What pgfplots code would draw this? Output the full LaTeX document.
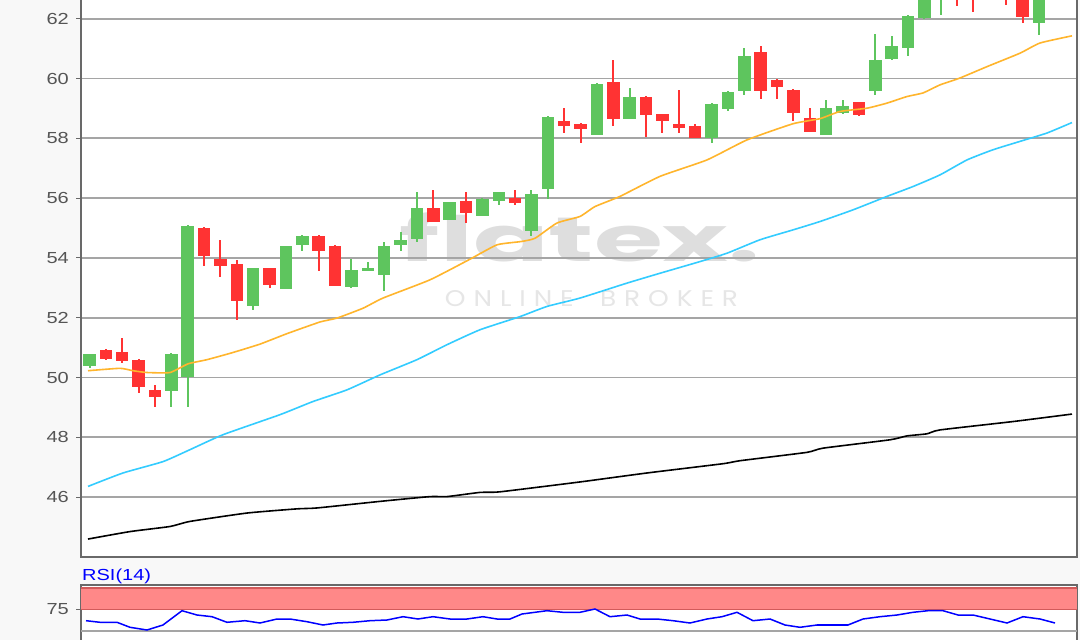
\documentclass[border=0pt]{standalone}
\usepackage{pgfplots}
\pgfplotsset{compat=1.18}
\usepackage{pgfplotstable}
\usepackage{graphicx}
\usepackage{fontspec}
\setmainfont{Liberation Sans}
\newfontfamily\wmfont{Poppins}
\definecolor{bg}{RGB}{248,248,248}
\definecolor{axisgray}{RGB}{105,105,105}
\definecolor{gridgray}{RGB}{165,165,165}
\definecolor{labelgray}{RGB}{85,85,85}
\definecolor{cgreen}{RGB}{94,197,94}
\definecolor{cred}{RGB}{255,51,51}
\definecolor{maorange}{RGB}{255,181,44}
\definecolor{macyan}{RGB}{51,204,255}
\definecolor{bandred}{RGB}{255,136,136}
\definecolor{banddark}{RGB}{210,90,90}
\definecolor{wmgray}{RGB}{222,222,222}
\definecolor{wmlight}{RGB}{230,230,230}
\newcommand{\hs}[1]{\scalebox{1.25}[1]{#1}}

\pgfplotstableread{
i o h l c
0 50.40 50.80 50.33 50.80
5 49.55 50.82 49.00 50.80
6 50.02 55.10 49.00 55.08
10 52.41 53.68 52.27 53.66
12 52.96 54.40 52.95 54.39
13 54.43 54.76 54.22 54.74
16 53.03 53.96 53.00 53.61
17 53.57 53.88 53.55 53.68
18 53.43 54.53 52.88 54.41
19 54.44 54.87 54.22 54.61
20 54.63 56.20 54.55 55.67
22 55.28 55.89 55.26 55.87
24 55.42 56.00 55.40 55.98
25 55.91 56.22 55.78 56.20
27 54.91 56.28 54.75 56.13
28 56.31 58.76 55.98 58.71
31 58.12 59.84 58.10 59.82
33 58.66 59.68 58.64 59.40
38 58.01 59.17 57.84 59.15
39 58.98 59.57 58.90 59.55
40 59.59 61.02 59.44 60.76
45 58.12 59.29 58.10 59.01
46 58.85 59.29 58.83 59.07
48 59.59 61.50 59.44 60.63
49 60.65 61.43 60.63 61.10
50 61.04 62.12 60.77 62.10
51 62.02 63.10 62.00 62.95
52 62.75 63.50 62.13 63.30
58 61.86 63.00 61.46 62.80
59 62.95 63.40 62.90 63.20
60 63.20 63.70 63.00 63.50
}\greentab

\pgfplotstableread{
i o h l c
1 50.93 50.95 50.60 50.62
2 50.85 51.34 50.48 50.54
3 50.60 50.62 49.48 49.68
4 49.59 49.74 49.00 49.35
7 55.00 55.02 53.74 54.08
8 53.96 54.61 53.35 53.75
9 53.81 53.94 51.93 52.55
11 53.66 53.68 53.01 53.09
14 54.74 54.76 53.55 54.22
15 54.41 54.43 53.05 53.07
21 55.67 56.28 55.20 55.22
23 55.89 56.20 55.17 55.50
26 56.01 56.28 55.78 55.84
29 58.57 59.01 58.18 58.43
30 58.48 58.50 57.84 58.31
32 59.90 60.63 58.43 58.66
34 59.40 59.42 58.03 58.79
35 58.81 58.83 58.18 58.59
36 58.49 59.63 58.18 58.36
37 58.42 58.49 58.01 58.03
41 60.89 61.10 59.31 59.59
42 59.96 59.98 59.31 59.72
43 59.63 59.65 58.57 58.85
44 58.68 59.01 58.21 58.23
47 59.21 59.23 58.75 58.77
53 63.40 63.60 62.43 62.90
54 63.00 63.30 62.24 62.75
55 63.10 63.40 62.80 62.85
56 62.90 63.00 62.47 62.75
57 62.80 62.90 61.86 62.06
}\redtab

\pgfplotstableread{
x y
88 50.23
120 50.31
133 50.23
147 50.17
170 50.17
188 50.46
207 50.60
232 50.83
260 51.12
287 51.47
320 51.86
337 51.99
363 52.32
383 52.66
430 53.27
470 53.96
497 54.44
521 54.55
535 54.66
557 55.17
580 55.39
595 55.72
620 56.06
660 56.73
707 57.28
747 57.95
793 58.49
820 58.66
840 58.90
867 59.01
887 59.18
907 59.40
923 59.52
940 59.79
960 60.02
987 60.40
1020 60.85
1040 61.19
1072 61.43
}\maorangetab

\pgfplotstableread{
x y
88 46.36
123 46.81
163 47.19
190 47.59
223 48.09
280 48.76
313 49.20
347 49.59
380 50.09
417 50.60
447 51.10
480 51.60
520 52.04
547 52.38
580 52.66
627 53.16
660 53.49
700 53.88
727 54.16
760 54.61
793 54.94
820 55.22
853 55.61
887 56.06
913 56.39
940 56.78
967 57.28
993 57.62
1020 57.90
1047 58.18
1072 58.53
}\macyantab

\pgfplotstableread{
x y
88 44.60
130 44.85
170 45.02
190 45.19
247 45.47
297 45.61
317 45.64
380 45.86
430 46.02
447 46.02
480 46.16
500 46.18
580 46.51
647 46.81
723 47.12
740 47.22
807 47.50
823 47.64
890 47.92
907 48.05
927 48.12
940 48.25
1013 48.53
1072 48.78
}\mablacktab

\pgfplotstableread{
x y
86 61.98
100 60.12
117 60.12
130 54.30
147 51.16
163 56.98
182 73.60
197 68.60
212 66.63
227 60.12
245 61.98
260 59.30
277 63.95
290 63.95
307 60.81
323 56.98
337 59.30
353 60.12
370 61.98
387 62.79
403 66.63
418 63.95
433 66.63
450 63.95
467 63.95
483 66.63
497 63.95
510 63.95
522 69.77
547 73.60
563 71.74
580 71.74
595 75.58
610 66.63
627 68.60
640 63.95
657 63.95
673 61.98
690 59.30
707 63.95
722 66.63
737 71.74
753 61.98
770 63.95
785 56.98
800 54.30
817 56.98
833 56.98
848 56.98
863 63.95
880 66.63
897 68.60
913 71.74
928 73.60
943 73.60
958 68.60
973 68.60
990 63.95
1007 59.30
1023 66.63
1040 63.95
1055 59.30
}\rsitab

\begin{document}
\begin{tikzpicture}
\path[use as bounding box] (0pt,0pt) rectangle (1080pt,640pt);
\clip (0pt,0pt) rectangle (1080pt,640pt);
\fill[bg] (0pt,0pt) rectangle (1080pt,640pt);
\fill[white] (81pt,83pt) rectangle (1077pt,660pt);
\fill[white] (81pt,-40pt) rectangle (1077pt,55pt);
% watermark
\node[inner sep=0pt, text=wmgray] at (580pt,402.5pt) {\resizebox{360pt}{49pt}{\wmfont\bfseries flatex.}};
\node[inner sep=0pt, text=wmlight] at (591.5pt,341.5pt) {\resizebox{293pt}{16pt}{\wmfont O\hspace{0.3em}N\hspace{0.3em}L\hspace{0.3em}I\hspace{0.3em}N\hspace{0.3em}E\hspace{1em}B\hspace{0.3em}R\hspace{0.3em}O\hspace{0.3em}K\hspace{0.3em}E\hspace{0.3em}R}};

\begin{axis}[
  at={(81pt,83pt)}, anchor=south west,
  width=996pt, height=598pt, scale only axis,
  xmin=81, xmax=1077, ymin=44, ymax=64,
  axis line style={draw=axisgray, line width=1.6pt},
  xtick=\empty,
  ytick={46,48,50,52,54,56,58,60,62},
  yticklabels={\hs{46},\hs{48},\hs{50},\hs{52},\hs{54},\hs{56},\hs{58},\hs{60},\hs{62}},
  ytick pos=left,
  tick align=outside,
  major tick length=5pt,
  tick style={draw=axisgray, line width=1pt},
  yticklabel style={font=\fontsize{16}{16}\selectfont, text=labelgray, inner sep=0pt, anchor=east, xshift=-7pt},
  ymajorgrids,
  grid style={draw=gridgray, line width=1.8pt},
]
% wicks
\addplot[draw=none, forget plot,
  error bars/y dir=both, error bars/y explicit, error bars/error mark=none,
  error bars/error bar style={draw=cgreen, line width=2pt}]
  table[x expr=89.5+16.37*\thisrow{i}, y expr=(\thisrow{h}+\thisrow{l})/2, y error expr=(\thisrow{h}-\thisrow{l})/2] {\greentab};
\addplot[draw=none, forget plot,
  error bars/y dir=both, error bars/y explicit, error bars/error mark=none,
  error bars/error bar style={draw=cred, line width=2pt}]
  table[x expr=89.5+16.37*\thisrow{i}, y expr=(\thisrow{h}+\thisrow{l})/2, y error expr=(\thisrow{h}-\thisrow{l})/2] {\redtab};
% bodies
\addplot[draw=none, forget plot,
  error bars/y dir=both, error bars/y explicit, error bars/error mark=none,
  error bars/error bar style={draw=cgreen, line width=12.5pt}]
  table[x expr=89.5+16.37*\thisrow{i}, y expr=(\thisrow{o}+\thisrow{c})/2, y error expr=abs(\thisrow{c}-\thisrow{o})/2] {\greentab};
\addplot[draw=none, forget plot,
  error bars/y dir=both, error bars/y explicit, error bars/error mark=none,
  error bars/error bar style={draw=cred, line width=12.5pt}]
  table[x expr=89.5+16.37*\thisrow{i}, y expr=(\thisrow{o}+\thisrow{c})/2, y error expr=abs(\thisrow{c}-\thisrow{o})/2] {\redtab};
% moving averages
\addplot[maorange, line width=1.6pt, mark=none, smooth, tension=0.3] table[x=x,y=y] {\maorangetab};
\addplot[macyan, line width=1.6pt, mark=none, smooth, tension=0.3] table[x=x,y=y] {\macyantab};
\addplot[black, line width=1.6pt, mark=none, smooth, tension=0.3] table[x=x,y=y] {\mablacktab};
\end{axis}

\begin{axis}[
  at={(81pt,-34pt)}, anchor=south west,
  width=996pt, height=89pt, scale only axis,
  xmin=81, xmax=1077, ymin=0, ymax=103.5,
  axis line style={draw=axisgray, line width=1.6pt},
  xtick=\empty,
  ytick={75},
  yticklabels={\hs{75}},
  ytick pos=left,
  tick align=outside,
  major tick length=5pt,
  tick style={draw=axisgray, line width=1pt},
  yticklabel style={font=\fontsize{16}{16}\selectfont, text=labelgray, inner sep=0pt, anchor=east, xshift=-7pt},
]
\fill[bandred] (axis cs:81,75) rectangle (axis cs:1077,100);
\draw[banddark, line width=1.5pt] (axis cs:81,75) -- (axis cs:1077,75);
\draw[banddark, line width=1.5pt] (axis cs:81,100) -- (axis cs:1077,100);
\draw[gridgray, line width=1.8pt] (axis cs:81,50) -- (axis cs:1077,50);
\addplot[blue, line width=1.5pt, mark=none] table[x=x,y=y] {\rsitab};
\end{axis}

\node[anchor=base west, inner sep=0pt, text=blue] at (82pt,59.3pt) {\fontsize{16}{16}\selectfont\hs{RSI(14)}};
\end{tikzpicture}
\end{document}
